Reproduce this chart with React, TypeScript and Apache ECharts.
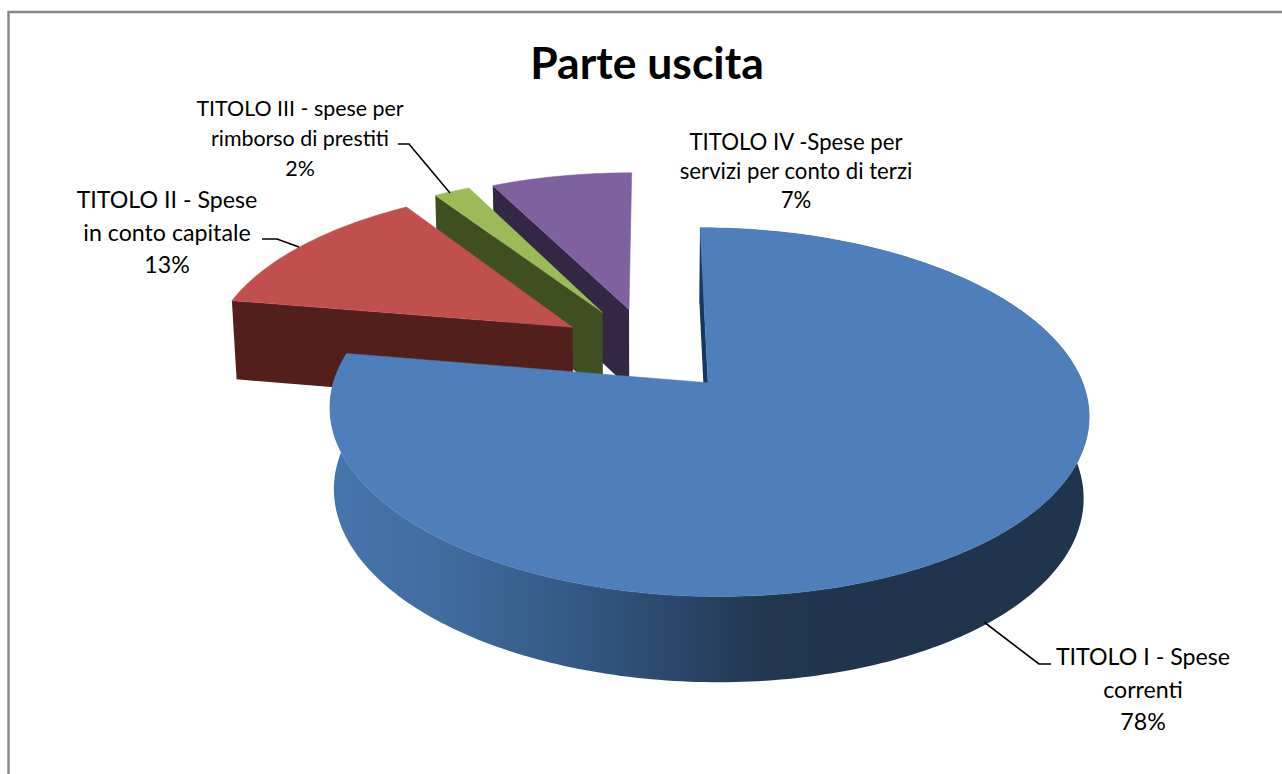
import React, { useEffect, useRef } from "react";
import * as echarts from "echarts";

const categories = [
  "TITOLO I - Spese\ncorrenti",
  "TITOLO II - Spese\nin conto capitale",
  "TITOLO III - spese per\nrimborso di prestiti",
  "TITOLO IV -Spese per\nservizi per conto di terzi",
];
const values = [77.6, 13.0, 1.9, 7.4];
const topColors = ["#4E7FBB", "#C0504D", "#9BBB59", "#7F619F"];
const sideColors = ["#17375E", "#521F1C", "#3F4F21", "#332745"];
const explode = [0.24, 0.26, 0.27, 0.26];
const drawOrder = [3, 2, 1, 0];

const labelBoxes = [
  { x: 1143, y: 688.5, size: 23.2, lh: 32.5 },
  { x: 167, y: 231.5, size: 23.2, lh: 32.5 },
  { x: 300, y: 137.5, size: 21.4, lh: 30 },
  { x: 796, y: 170.5, size: 22.2, lh: 29 },
];
const leaders = [
  [[984, 622], [1039, 664], [1051, 664]],
  [[262, 239], [277, 239], [299, 247]],
  [[398, 144], [409, 144], [450, 193]],
];

const FONT = "Lato, Carlito, sans-serif";
const CX = 650, CY = 350.7, RX = 364, RY = 169.6, P = 0.155;
const DEPTH = 83.6, QX = 0.012, QY = 0.041;

function project(u: number, v: number, h: number): number[] {
  const d = 1 - P * v;
  return [CX + (RX * u) / (d + QX * h), CY + (RY * v + DEPTH * h) / (d + QY * h)];
}

const total = values.reduce((a, b) => a + b, 0);
const starts: number[] = [];
values.reduce((acc, v, i) => {
  starts[i] = acc;
  return acc + v;
}, 0);

function sliceShapes(idx: number) {
  const a0 = (starts[idx] / total) * Math.PI * 2;
  const a1 = ((starts[idx] + values[idx]) / total) * Math.PI * 2;
  const mid = (a0 + a1) / 2;
  const ox = Math.sin(mid) * explode[idx];
  const oy = -Math.cos(mid) * explode[idx];
  const rim = (a: number, h: number) => project(ox + Math.sin(a), oy - Math.cos(a), h);
  const n = Math.max(4, Math.ceil((a1 - a0) / (Math.PI / 180)));
  const topArc: number[][] = [];
  const botArc: number[][] = [];
  for (let i = 0; i <= n; i++) {
    const a = a0 + ((a1 - a0) * i) / n;
    topArc.push(rim(a, 0));
    botArc.push(rim(a, 1));
  }
  const apexTop = project(ox, oy, 0);
  const apexBot = project(ox, oy, 1);
  return { topArc, botArc, apexTop, apexBot, facesFront: Math.cos(mid) < 0 };
}

const blueSideGradient = {
  type: "linear",
  x: 335,
  y: 0,
  x2: 840,
  y2: 0,
  global: true,
  colorStops: [
    { offset: 0, color: "#4675AC" },
    { offset: 0.25, color: "#3F6A9B" },
    { offset: 0.55, color: "#30527C" },
    { offset: 0.85, color: "#22374F" },
    { offset: 1, color: "#20344E" },
  ],
};

function renderItem(_params: any, api: any) {
  const idx = api.value(0) as number;
  const { topArc, botArc, apexTop, apexBot, facesFront } = sliceShapes(idx);
  const children: any[] = [];
  if (facesFront) {
    children.push({
      type: "polygon",
      shape: { points: [...topArc, ...botArc.slice().reverse()] },
      style: { fill: blueSideGradient, stroke: null },
    });
  }
  children.push(
    {
      type: "polygon",
      shape: { points: [topArc[0], apexTop, apexBot, botArc[0]] },
      style: { fill: sideColors[idx], stroke: null },
    },
    {
      type: "polygon",
      shape: { points: [apexTop, ...topArc] },
      style: { fill: topColors[idx], stroke: topColors[idx], lineWidth: 0.5 },
    }
  );
  return { type: "group", children };
}

export default function App() {
  const ref = useRef<HTMLDivElement>(null);
  useEffect(() => {
    document.body.style.margin = "0";
    const chart = echarts.init(ref.current!, undefined, { renderer: "svg" });
    chart.setOption({
      animation: false,
      backgroundColor: "#FFFFFF",
      title: {
        text: "Parte uscita",
        left: 642,
        top: 34,
        textAlign: "center",
        textStyle: { fontFamily: FONT, fontSize: 44.5, fontWeight: "bold", color: "#000" },
      },
      series: [
        {
          type: "custom",
          coordinateSystem: "none",
          renderItem,
          data: drawOrder.map((i) => [i, values[i]]),
          silent: true,
        },
      ],
      graphic: [
        {
          type: "rect",
          shape: { x: 8.5, y: 12, width: 1400, height: 900 },
          style: { fill: "none", stroke: "#868686", lineWidth: 2.4 },
          z: -1,
        },
        ...leaders.map((pts) => ({
          type: "polyline",
          shape: { points: pts },
          style: { fill: "none", stroke: "#000", lineWidth: 1.6 },
          z: 10,
        })),
        ...labelBoxes.map((b, i) => ({
          type: "text",
          x: b.x,
          y: b.y,
          z: 10,
          style: {
            text: `${categories[i]}\n${Math.round((values[i] / total) * 100)}%`,
            fontFamily: FONT,
            fontSize: b.size,
            lineHeight: b.lh,
            fill: "#000",
            align: "center",
            verticalAlign: "middle",
          },
        })),
      ],
    });
    return () => chart.dispose();
  }, []);
  return <div ref={ref} style={{ width: 1282, height: 774, overflow: "hidden" }} />;
}
